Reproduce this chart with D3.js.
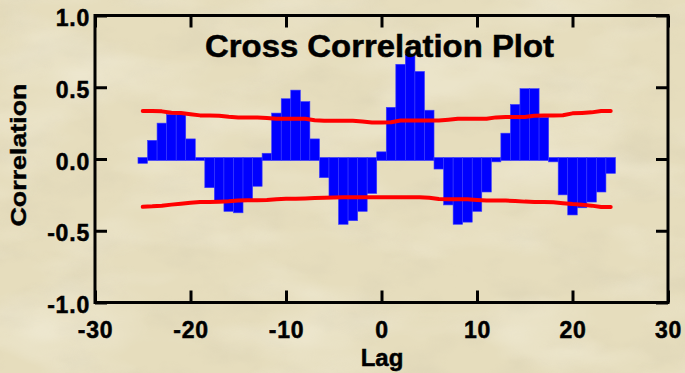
<!DOCTYPE html>
<html>
<head>
<meta charset="utf-8">
<script src="https://cdn.jsdelivr.net/npm/d3@7"></script>
<style>
  html, body { margin: 0; padding: 0; background: #e6dcbc; }
  svg { display: block; }
  text { font-family: Arial, "Liberation Sans", Helvetica, sans-serif; font-weight: bold; fill: #000; }
</style>
</head>
<body>
<script>
// Lags shown on the chart
const lags = d3.range(-25, 25);

// Cross-correlation coefficient at each lag
const correlation = [
  -0.03, 0.13, 0.25, 0.31, 0.31, 0.14, -0.01, -0.20, -0.30, -0.365,
  -0.375, -0.285, -0.19, 0.04, 0.32, 0.42, 0.48, 0.40, 0.14, -0.13,
  -0.26, -0.455, -0.43, -0.365, -0.24, 0.05, 0.36, 0.66, 0.73, 0.61,
  0.34, -0.07, -0.32, -0.455, -0.44, -0.365, -0.23, -0.02, 0.18, 0.38,
  0.49, 0.49, 0.29, -0.02, -0.25, -0.39, -0.34, -0.30, -0.23, -0.10
];

// Upper and lower significance limits at each lag
const upperLimit = [
  0.334, 0.334, 0.332, 0.322, 0.320, 0.312, 0.304, 0.304, 0.302, 0.294,
  0.290, 0.290, 0.290, 0.285, 0.280, 0.280, 0.280, 0.280, 0.270, 0.267,
  0.267, 0.267, 0.267, 0.262, 0.255, 0.255, 0.256, 0.268, 0.269, 0.269,
  0.269, 0.269, 0.274, 0.280, 0.280, 0.280, 0.280, 0.290, 0.293, 0.293,
  0.293, 0.302, 0.304, 0.304, 0.305, 0.318, 0.321, 0.325, 0.334, 0.334
];
const lowerLimit = [
  -0.333, -0.330, -0.325, -0.318, -0.312, -0.305, -0.300, -0.300, -0.298, -0.295,
  -0.290, -0.288, -0.288, -0.285, -0.280, -0.277, -0.277, -0.275, -0.272, -0.270,
  -0.268, -0.267, -0.267, -0.267, -0.267, -0.267, -0.267, -0.267, -0.267, -0.267,
  -0.270, -0.278, -0.280, -0.280, -0.280, -0.285, -0.290, -0.290, -0.290, -0.292,
  -0.297, -0.300, -0.300, -0.302, -0.308, -0.314, -0.318, -0.325, -0.334, -0.334
];

// Axis ticks
const xTicks = [-30, -20, -10, 0, 10, 20, 30];
const yTicks = [-1.0, -0.5, 0.0, 0.5, 1.0];

const W = 685, H = 373;
const plot = { left: 95, right: 668, top: 15.5, bottom: 302.5 };

const svg = d3.select("body").append("svg")
  .attr("width", W).attr("height", H);

// Parchment background
const defs = svg.append("defs");
const paper = defs.append("filter").attr("id", "paper")
  .attr("x", 0).attr("y", 0).attr("width", "100%").attr("height", "100%");
paper.append("feTurbulence")
  .attr("type", "fractalNoise").attr("baseFrequency", "0.018 0.03")
  .attr("numOctaves", 4).attr("seed", 11).attr("result", "noise");
paper.append("feColorMatrix").attr("in", "noise").attr("type", "matrix")
  .attr("values", "0 0 0 0 0.62  0 0 0 0 0.57  0 0 0 0 0.42  1.6 0 0 0 -0.72");

const sheen = defs.append("filter").attr("id", "sheen")
  .attr("x", 0).attr("y", 0).attr("width", "100%").attr("height", "100%");
sheen.append("feTurbulence")
  .attr("type", "fractalNoise").attr("baseFrequency", "0.008 0.02")
  .attr("numOctaves", 3).attr("seed", 3).attr("result", "noise");
sheen.append("feColorMatrix").attr("in", "noise").attr("type", "matrix")
  .attr("values", "0 0 0 0 1  0 0 0 0 1  0 0 0 0 0.95  1.4 0 0 0 -0.62");

svg.append("rect").attr("width", W).attr("height", H).attr("fill", "#e6ddbd");
svg.append("rect").attr("width", W).attr("height", H)
  .attr("filter", "url(#paper)").attr("opacity", 0.35);
svg.append("rect").attr("width", W).attr("height", H)
  .attr("filter", "url(#sheen)").attr("opacity", 0.45);

// Scales
const x = d3.scaleLinear().domain([-30, 30]).range([plot.left, plot.right]);
const y = d3.scaleLinear().domain([-1, 1]).range([plot.bottom, plot.top]);
const barW = x(1) - x(0);
const y0 = y(0);

// Bars
svg.append("g").selectAll("rect")
  .data(lags.map((k, i) => ({ lag: k, r: correlation[i] })))
  .join("rect")
  .attr("x", d => x(d.lag) - barW / 2)
  .attr("width", barW)
  .attr("y", d => Math.min(y(d.r), y0 - 1.5))
  .attr("height", d => Math.max(y(d.r), y0 + 1.5) - Math.min(y(d.r), y0 - 1.5))
  .attr("fill", "#0000ff")
  .attr("stroke", "#3a3aff")
  .attr("stroke-width", 0.6);

// Significance limits
const limitLine = d3.line().x(d => x(d[0])).y(d => y(d[1]));
[upperLimit, lowerLimit].forEach(arr => {
  svg.append("path")
    .datum(lags.map((k, i) => [k, arr[i]]))
    .attr("d", limitLine)
    .attr("fill", "none")
    .attr("stroke", "#ff0000")
    .attr("stroke-width", 4)
    .attr("stroke-linejoin", "round")
    .attr("stroke-linecap", "round");
});

// Tick labels use a plain hyphen for negatives
const hyphen = f => d => f(d).replace("\u2212", "-");

// Axes: ticks point inward on all four sides
const tickLen = 12;
const styleAxis = g => {
  g.select(".domain").remove();
  g.selectAll(".tick line").attr("stroke", "#000").attr("stroke-width", 3);
  g.selectAll(".tick text")
    .attr("font-family", "Arial, 'Liberation Sans', sans-serif")
    .attr("font-weight", "bold").attr("font-size", 23)
    .attr("letter-spacing", "0.8px").attr("fill", "#000")
    .attr("stroke", "#000").attr("stroke-width", 0.5);
};

svg.append("g").attr("transform", `translate(0,${plot.bottom})`)
  .call(d3.axisBottom(x).tickValues(xTicks).tickSize(-tickLen).tickPadding(19)
    .tickFormat(hyphen(d3.format("d"))))
  .call(styleAxis);

svg.append("g").attr("transform", `translate(0,${plot.top})`)
  .call(d3.axisTop(x).tickValues(xTicks).tickSize(-tickLen).tickFormat(""))
  .call(styleAxis);

svg.append("g").attr("transform", `translate(${plot.left},0)`)
  .call(d3.axisLeft(y).tickValues(yTicks).tickSize(-tickLen).tickPadding(5)
    .tickFormat(hyphen(d3.format(".1f"))))
  .call(styleAxis)
  .call(g => g.selectAll(".tick text").attr("dy", "0.44em"));

svg.append("g").attr("transform", `translate(${plot.right},0)`)
  .call(d3.axisRight(y).tickValues(yTicks).tickSize(-tickLen).tickFormat(""))
  .call(styleAxis);

// Frame
svg.append("rect")
  .attr("x", plot.left).attr("y", plot.top)
  .attr("width", plot.right - plot.left).attr("height", plot.bottom - plot.top)
  .attr("fill", "none").attr("stroke", "#000").attr("stroke-width", 3);

// Titles
svg.append("text")
  .attr("x", 379.5).attr("y", 57)
  .attr("text-anchor", "middle")
  .attr("font-size", 31)
  .attr("stroke", "#000").attr("stroke-width", 0.5)
  .attr("textLength", 349).attr("lengthAdjust", "spacingAndGlyphs")
  .text("Cross Correlation Plot");

svg.append("text")
  .attr("x", 382).attr("y", 366)
  .attr("text-anchor", "middle")
  .attr("font-size", 24)
  .attr("stroke", "#000").attr("stroke-width", 0.5)
  .text("Lag");

svg.append("text")
  .attr("transform", "translate(26,155) rotate(-90)")
  .attr("text-anchor", "middle")
  .attr("font-size", 22)
  .attr("stroke", "#000").attr("stroke-width", 0.4)
  .attr("textLength", 143).attr("lengthAdjust", "spacingAndGlyphs")
  .text("Correlation");
</script>
</body>
</html>
